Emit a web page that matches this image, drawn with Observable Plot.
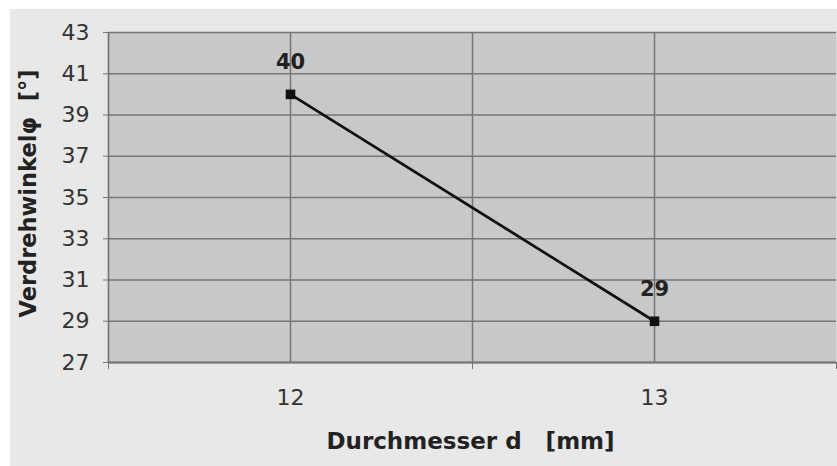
<!DOCTYPE html>
<html>
<head>
<meta charset="utf-8">
<script src="https://cdn.jsdelivr.net/npm/d3@7"></script>
<script src="https://cdn.jsdelivr.net/npm/@observablehq/plot@0.6"></script>
<style>
  html, body { margin: 0; padding: 0; background: #ffffff; }
  #chart { position: absolute; left: 10px; top: 9px; width: 827px; height: 457px; background: #e8e8e8; }
  #chart svg { display: block; }
</style>
</head>
<body>
<div id="chart"></div>
<script>
const diameters = [12, 13];
const angles = [40, 29];
const xLabelTicks = [12, 13];
const xBoundaryTicks = [11.5, 12.5, 13.5];
const xGrid = [12, 12.5, 13];
const yTicks = [27, 29, 31, 33, 35, 37, 39, 41, 43];
const xTitle = "Durchmesser d\u00a0\u00a0\u00a0[mm]";
const yTitle = "Verdrehwinkel\u03c6\u00a0\u00a0[°]";

const data = diameters.map((d, i) => ({d, a: angles[i]}));
const font = "DejaVu Sans, Verdana, sans-serif";
const grid = "#767676";

const chart = Plot.plot({
  width: 827,
  height: 457,
  marginLeft: 98,
  marginRight: 1,
  marginTop: 23,
  marginBottom: 104,
  style: {background: "transparent", fontFamily: font, color: "#333"},
  x: {domain: [11.5, 13.5]},
  y: {domain: [27, 43]},
  marks: [
    Plot.frame({fill: "#c8c8c8", stroke: null}),
    Plot.gridY(yTicks, {stroke: grid, strokeOpacity: 1, strokeWidth: 1.7}),
    Plot.gridX(xGrid, {stroke: grid, strokeOpacity: 1, strokeWidth: 1.5}),
    Plot.ruleX([11.5], {stroke: grid, strokeWidth: 1.7}),
    Plot.ruleY([27], {stroke: grid, strokeWidth: 1.9}),
    Plot.axisY(yTicks, {tickSize: 5, tickPadding: 14, stroke: grid, fontSize: 22, fill: "#333", label: null}),
    Plot.axisX(xBoundaryTicks, {tickSize: 7, stroke: grid, text: null, label: null}),
    Plot.axisX(xLabelTicks, {tickSize: 0, tickPadding: 27, fontSize: 22, fill: "#333", label: null, tickFormat: d => String(d)}),
    Plot.line(data, {x: "d", y: "a", stroke: "#111", strokeWidth: 2.7}),
    Plot.dot(data, {x: "d", y: "a", symbol: "square", r: 5.4, fill: "#111", stroke: "none"}),
    Plot.text(data, {x: "d", y: "a", text: d => String(d.a), dy: -32, fontSize: 21, fontWeight: "bold", fill: "#222"}),
    Plot.text([xTitle], {frameAnchor: "bottom", textAnchor: "middle", dx: -2, dy: 79, fontSize: 23, fontWeight: "bold", fill: "#222", lineAnchor: "middle"}),
    Plot.text([yTitle], {frameAnchor: "left", textAnchor: "middle", dx: -80, dy: -4, rotate: -90, fontSize: 22.5, fontWeight: "bold", fill: "#222", lineAnchor: "middle"})
  ]
});
document.getElementById("chart").appendChild(chart);
</script>
</body>
</html>
